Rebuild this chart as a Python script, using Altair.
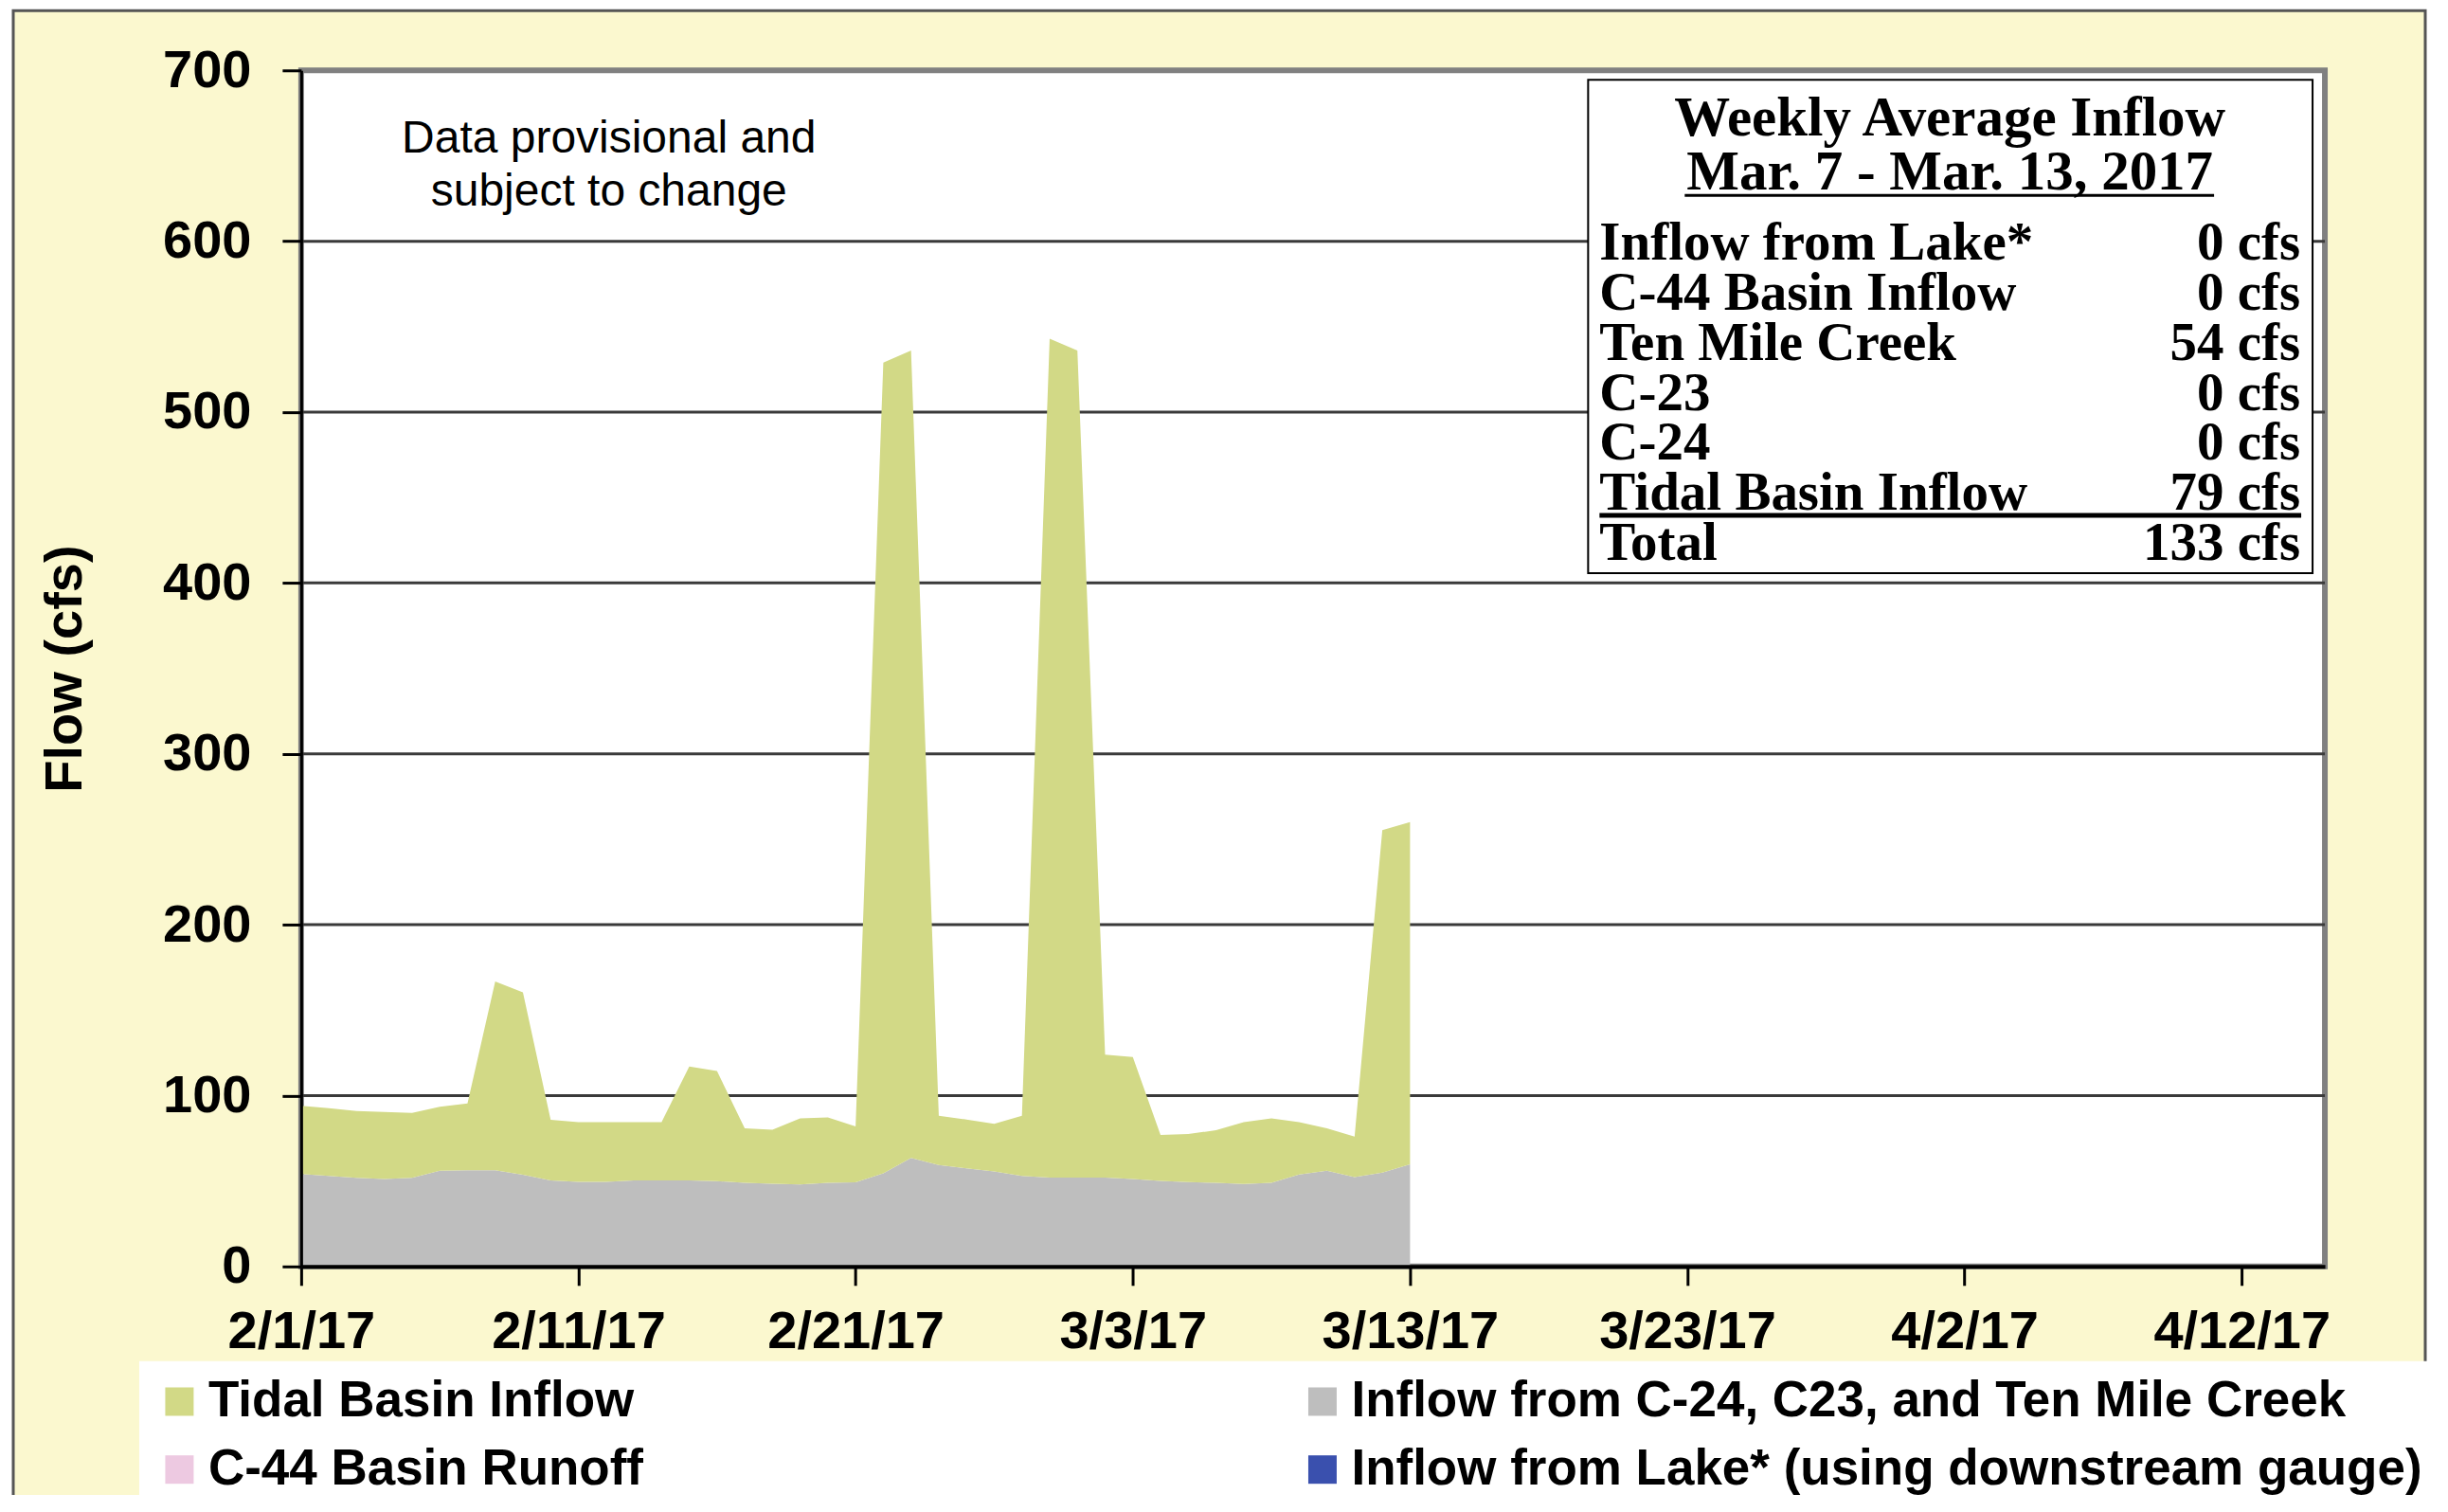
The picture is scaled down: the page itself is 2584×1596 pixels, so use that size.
import altair as alt
import pandas as pd

# ---------------- data ----------------
DATES = pd.date_range("2017-02-01", "2017-03-13", freq="D").strftime("%Y-%m-%d").tolist()

# Inflow from C-24, C23 and Ten Mile Creek (cfs), daily
BASIN = [54.1, 53.0, 51.8, 51.2, 51.8, 56.0, 56.3, 56.3, 53.6, 50.4,
         49.5, 49.5, 50.3, 50.3, 50.3, 49.9, 49.0, 48.4, 48.0, 49.0,
         49.2, 54.5, 63.5, 59.3, 57.4, 55.6, 53.0, 52.0, 52.0, 52.0,
         51.2, 50.0, 49.3, 49.0, 48.2, 49.0, 53.8, 56.0, 52.3, 54.9,
         59.7]
# Tidal Basin Inflow (cfs), daily, stacked on top
TIDAL = [39.9, 39.6, 39.2, 39.2, 38.1, 37.5, 39.1, 110.5, 106.8, 35.4,
         34.9, 34.9, 34.1, 34.1, 66.7, 64.5, 31.8, 31.6, 38.7, 38.2,
         32.7, 474.5, 472.5, 28.9, 28.6, 27.8, 35.2, 491.0, 484.0, 72.0,
         71.4, 27.0, 28.2, 30.7, 36.3, 37.7, 30.7, 24.8, 23.7, 200.5,
         200.3]

SERIES = ["Tidal Basin Inflow",
          "Inflow from  C-24, C23, and Ten Mile Creek",
          "C-44 Basin Runoff",
          "Inflow from Lake* (using downstream gauge)"]
COLORS = ["#D2D986", "#BEBEBE", "#EDC9E1", "#3A50AE"]

Y_TICKS = [0, 100, 200, 300, 400, 500, 600, 700]
GRID_VALUES = [100, 200, 300, 400, 500, 600]
X_TICKS = [(2, 1), (2, 11), (2, 21), (3, 3), (3, 13), (3, 23), (4, 2), (4, 12)]
X_DOMAIN = [(2, 1), (4, 15)]

BOX_TITLE = "Weekly Average Inflow"
BOX_PERIOD = "Mar. 7 - Mar. 13, 2017"
BOX_LABELS = ["Inflow from Lake*", "C-44 Basin Inflow", "Ten Mile Creek",
              "C-23", "C-24", "Tidal Basin Inflow", "Total"]
BOX_VALUES = ["0 cfs", "0 cfs", "54 cfs", "0 cfs", "0 cfs", "79 cfs", "133 cfs"]
NOTE = ["Data provisional and", "subject to change"]

# ---------------- build ----------------
rows = []
for d, b, t in zip(DATES, BASIN, TIDAL):
    rows.append({"date": d, "series": SERIES[1], "value": b, "ord": 0})
    rows.append({"date": d, "series": SERIES[0], "value": t, "ord": 1})
df = pd.DataFrame(rows)

def dt(md):
    return alt.DateTime(year=2017, month=md[0], date=md[1], utc=True)

SANS = "Liberation Sans"
SERIF = "Liberation Serif"
W, H = 2137, 1263

x_enc = alt.X(
    "date:T",
    scale=alt.Scale(type="utc", domain=[dt(X_DOMAIN[0]), dt(X_DOMAIN[1])]),
    axis=alt.Axis(values=[dt(v) for v in X_TICKS], format="%-m/%-d/%y", title=None,
                  labelFont=SANS, labelFontSize=56, labelFontWeight="bold", labelColor="black",
                  labelAngle=0, labelPadding=22, labelOverlap=False, labelFlush=False,
                  labelLimit=1000,
                  tickSize=20, tickColor="black", tickWidth=3,
                  domainColor="black", domainWidth=4, grid=False, zindex=1),
)
y_scale = alt.Scale(domain=[0, 700], nice=False)
y_axis = alt.Axis(values=Y_TICKS, format="d", title="Flow (cfs)", grid=False,
                  labelFont=SANS, labelFontSize=56, labelFontWeight="bold", labelColor="black",
                  labelPadding=33, tickSize=20, tickColor="black", tickWidth=3,
                  domainColor="black", domainWidth=3,
                  titleFont=SANS, titleFontSize=56, titleFontWeight="bold", titleColor="black",
                  titleAngle=270, titleAlign="center", titleBaseline="middle",
                  titleX=-249, titleY=H / 2, zindex=1)

one = pd.DataFrame({"k": [0]})

# outer chart frame (yellow panel) and plot area panel
frame = alt.Chart(one).mark_rect(fill="#FBF8CF", stroke="#555555", strokeWidth=3).encode(
    x=alt.value(-304), x2=alt.value(2243), y=alt.value(-63), y2=alt.value(1600))
plot_bg = alt.Chart(one).mark_rect(fill="white", stroke="#808080", strokeWidth=6).encode(
    x=alt.value(0), x2=alt.value(W), y=alt.value(0), y2=alt.value(H))

grid = alt.Chart(pd.DataFrame({"v": GRID_VALUES})).mark_rule(
    color="#3a3a3a", strokeWidth=3).encode(y=alt.Y("v:Q", scale=y_scale, axis=y_axis))

area = alt.Chart(df).mark_area(interpolate="linear", opacity=1).encode(
    x=x_enc,
    y=alt.Y("value:Q", stack="zero", scale=y_scale, axis=y_axis),
    color=alt.Color("series:N", scale=alt.Scale(domain=SERIES, range=COLORS),
                    legend=alt.Legend(title=None, orient="none", legendX=-171, legendY=1363,
                                      direction="horizontal",
                                      columns=2, columnPadding=690, rowPadding=18,
                                      symbolType="square", symbolSize=900, symbolStrokeWidth=0,
                                      symbolOpacity=1,
                                      labelFont=SANS, labelFontSize=53, labelFontWeight="bold",
                                      labelColor="black", labelLimit=2000, labelOffset=4,
                                      fillColor="white", padding=16)),
    order=alt.Order("ord:Q"),
)

box = alt.Chart(one).mark_rect(fill="white", stroke="black", strokeWidth=2).encode(
    x=alt.value(1359), x2=alt.value(2124), y=alt.value(10), y2=alt.value(531))

def txt(s, x, y, align, font=SERIF, size=57, weight="bold"):
    return alt.Chart(one).mark_text(text=s, font=font, fontSize=size, fontWeight=weight,
                                    color="black", align=align, baseline="middle").encode(
        x=alt.value(x), y=alt.value(y))

layers = [frame, plot_bg, grid, area, box,
          txt(BOX_TITLE, 1741, 51, "center", size=59),
          txt(BOX_PERIOD, 1741, 108, "center", size=59)]
layers.append(alt.Chart(one).mark_rule(color="black", strokeWidth=3).encode(
    x=alt.value(1461), x2=alt.value(2020), y=alt.value(132)))
for i, (lab, val) in enumerate(zip(BOX_LABELS, BOX_VALUES)):
    y = 183 + i * 52.8
    layers.append(txt(lab, 1371, y, "left"))
    layers.append(txt(val, 2111, y, "right"))
layers.append(alt.Chart(one).mark_rule(color="black", strokeWidth=5).encode(
    x=alt.value(1371), x2=alt.value(2112), y=alt.value(470)))
for i, line in enumerate(NOTE):
    layers.append(txt(line, 325, 73 + i * 56, "center", font=SANS, size=48, weight="normal"))

chart = alt.layer(*layers).properties(
    width=W, height=H, autosize="none",
    padding={"left": 310, "top": 66, "right": 122, "bottom": 241},
    background="white",
).configure_view(stroke=None, fill="white")

chart.save("out.html", embed_options={"renderer": "svg", "actions": False})
